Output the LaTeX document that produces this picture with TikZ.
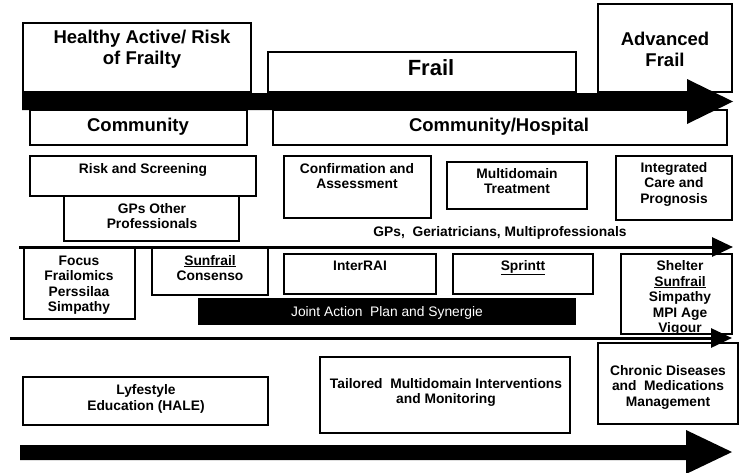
\documentclass[tikz,border=0pt]{standalone}
\usepackage{fontspec}
\setmainfont{Liberation Sans}
\usetikzlibrary{arrows.meta}
\newcommand\ftitle{\fontsize{18.5}{21}\selectfont\bfseries}
\newcommand\fbig{\fontsize{22}{24}\selectfont\bfseries}
\newcommand\fsm{\fontsize{13.8}{15.5}\selectfont\bfseries}
\newcommand\fjoint{\fontsize{13.8}{15.5}\selectfont}
\newcommand\bx[5]{\node[box,anchor=north west,minimum width={#4-#2},minimum height={#5-#3}] (#1) at (#2,#3) {};}
\begin{document}
\begin{tikzpicture}[x=1pt,y=-1pt,
  box/.style={draw,line width=2pt,inner sep=0pt,outer sep=0pt},
  txt/.style={inner sep=0pt,align=center,anchor=base},
  thin/.style={line width=3pt,-{Triangle[length=21pt,width=19pt]}},
  thick/.style={fill=black,draw=none}]
\useasboundingbox[fill=white] (0,0) rectangle (755,472);
% boxes
\bx{healthy}{23}{23}{251}{92}
\bx{frail}{268}{52}{576}{92}
\bx{adv}{598}{4}{732}{92}
\bx{comm}{30}{110}{247}{145}
\bx{commh}{273}{110}{727}{145}
\bx{risk}{30}{156}{256}{196}
\bx{gps}{64}{196}{239}{241}
\bx{conf}{284}{156}{431}{218}
\bx{multi}{447}{162}{587}{209}
\bx{integ}{616}{156}{732}{220}
\bx{focus}{24}{247}{135}{319}
\bx{sunf}{152}{247}{268}{295}
\bx{inter}{284}{254}{436}{294}
\bx{sprintt}{453}{254}{593}{294}
\node[fill=black,inner sep=0pt,anchor=north west,minimum width=378,minimum height=27] (joint) at (198,298) {};
\bx{shelter}{621}{254}{732}{334}
\bx{lyf}{23}{377}{268}{425}
\bx{tail}{320}{357}{570}{433}
\bx{chron}{598}{343}{738}{424}
% texts (anchor = baseline of the last line)
\node[txt,font=\ftitle] (t-healthy) at (142,64) {Healthy Active/ Risk\\of Frailty};
\node[txt,font=\fbig] (t-frail) at (431,75) {Frail};
\node[txt,font=\ftitle] (t-adv) at (665,66.5) {Advanced\\Frail};
\node[txt,font=\ftitle] (t-comm) at (138,131) {Community};
\node[txt,font=\ftitle] (t-commh) at (499,131) {Community/Hospital};
\node[txt,font=\fsm] (t-risk) at (143,173) {Risk and Screening};
\node[txt,font=\fsm] (t-gps) at (152,228.5) {GPs Other\\Professionals};
\node[txt,font=\fsm] (t-conf) at (357,188.5) {Confirmation and\\Assessment};
\node[txt,font=\fsm] (t-multi) at (517,193.5) {Multidomain\\Treatment};
\node[txt,font=\fsm] (t-integ) at (674,203) {Integrated\\Care and\\Prognosis};
\node[txt,font=\fsm] (t-ger) at (500,236) {GPs,\ \ Geriatricians, Multiprofessionals};
\node[txt,font=\fsm] (t-focus) at (79,311.5) {Focus\\Frailomics\\Perssilaa\\Simpathy};
\node[txt,font=\fsm] (t-sunf) at (210,280.5) {\underline{Sunfrail}\\Consenso};
\node[txt,font=\fsm] (t-inter) at (360,270) {InterRAI};
\node[txt,font=\fsm] (t-sprintt) at (523,270) {\underline{Sprintt}};
\node[txt,font=\fsm] (t-shelter) at (680,332.5) {Shelter\\\underline{Sunfrail}\\Simpathy\\MPI Age\\Vigour};
\node[txt,font=\fjoint,text=white] (t-joint) at (387,316) {Joint Action\ \ Plan and Synergie};
\node[txt,font=\fsm] (t-lyf) at (146,410) {Lyfestyle\\Education (HALE)};
\node[txt,font=\fsm] (t-tail) at (446,403.5) {Tailored\ \ Multidomain Interventions\\and Monitoring};
\node[txt,font=\fsm] (t-chron) at (668,406) {Chronic Diseases\\and\ \ Medications\\Management};
% arrows
\coordinate (a1s) at (19,247); \coordinate (a1e) at (733,247);
\coordinate (a2s) at (10,338); \coordinate (a2e) at (732,338);
\draw[thin] (a1s) -- (a1e);
\draw[thin] (a2s) -- (a2e);
\fill[thick] (22,93) -- (687,93) -- (687,79) -- (733,101.5) -- (687,124) -- (687,110) -- (22,110) -- cycle;
\fill[thick] (20,445) -- (686,445) -- (686,430) -- (732,452) -- (686,474) -- (686,460) -- (20,460) -- cycle;
\end{tikzpicture}
\end{document}
